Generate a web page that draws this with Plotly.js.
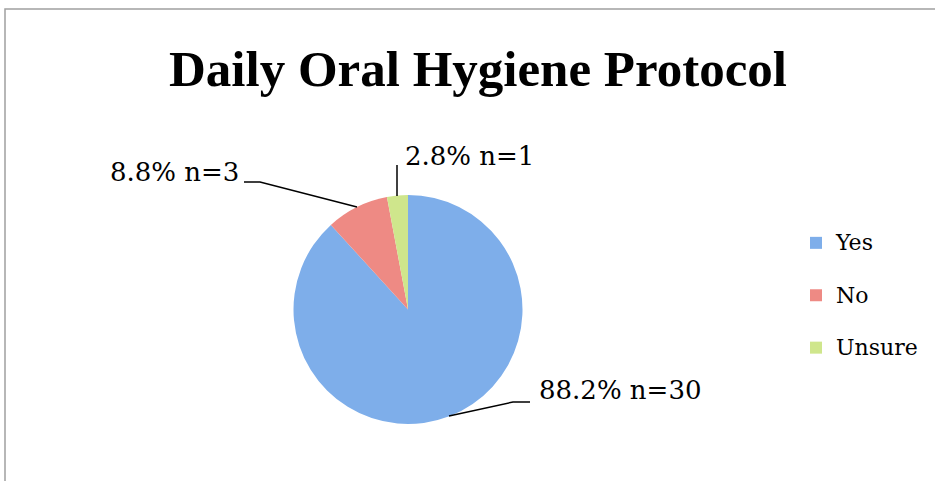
<!DOCTYPE html>
<html><head><meta charset="utf-8">
<script src="https://cdn.plot.ly/plotly-3.0.1.min.js"></script>
<style>html,body{margin:0;padding:0;background:#fff}</style>
</head><body>
<div id="chart" style="width:935px;height:481px"></div>
<script>
const categories = ['Yes', 'No', 'Unsure'];
const counts = [30, 3, 1];
const pctLabels = ['88.2%', '8.8%', '2.8%'];
const colors = ['#7eaeea', '#ee8a84', '#cfe68c'];

const W = 935, H = 481;
const px = x => x / W;
const py = y => 1 - y / H;

const cx = 408, cy = 309.5, r = 114.5;

const labelText = categories.map((c, i) => pctLabels[i] + ' n=' + counts[i]);
// label anchor positions (pixels) for Yes, No, Unsure
const labelPos = [[537, 390, 'left'], [108, 172, 'left'], [403, 156, 'left']];
const leaders = [
  [[449, 416], [513, 402], [530, 402]],
  [[244, 182], [260, 182], [357, 207]],
  [[397, 165], [397, 196]]
];

const trace = {
  type: 'pie',
  labels: categories.map(c => '<span style="font-size:22px">' + c + '</span><br>&nbsp;'),
  values: counts,
  sort: false,
  direction: 'clockwise',
  rotation: 0,
  textinfo: 'none',
  hoverinfo: 'label+value+percent',
  marker: { colors: colors, line: { width: 0 } },
  domain: { x: [px(cx - r), px(cx + r)], y: [py(cy + r), py(cy - r)] }
};

const shapes = [{
  type: 'rect', xref: 'paper', yref: 'paper',
  x0: px(5), x1: px(960), y0: py(9), y1: py(520),
  line: { color: '#a0a0a0', width: 1.5 }
}];
leaders.forEach(pts => {
  let path = 'M' + pts.map(p => px(p[0]) + ',' + py(p[1])).join(' L');
  shapes.push({ type: 'path', xref: 'paper', yref: 'paper', path: path, line: { color: '#000', width: 1.5 } });
});

const annotations = labelText.map((t, i) => ({
  xref: 'paper', yref: 'paper', x: px(labelPos[i][0]), y: py(labelPos[i][1]),
  xanchor: labelPos[i][2], yanchor: 'middle', showarrow: false, text: t,
  font: { family: 'DejaVu Serif, serif', size: 26, color: '#000' }
}));

const layout = {
  width: W, height: H,
  margin: { l: 0, r: 0, t: 0, b: 0 },
  paper_bgcolor: '#fff',
  title: {
    text: '<b>Daily Oral Hygiene Protocol</b>',
    font: { family: 'Liberation Serif, serif', size: 51, color: '#000' },
    x: px(478), xanchor: 'center', y: py(68), yanchor: 'middle', xref: 'paper', yref: 'paper'
  },
  showlegend: true,
  legend: {
    x: px(796), xanchor: 'left', y: py(224), yanchor: 'top',
    valign: 'top',
    font: { family: 'DejaVu Serif, serif', size: 19, color: '#000' },
    bgcolor: 'rgba(0,0,0,0)'
  },
  shapes: shapes,
  annotations: annotations
};

Plotly.newPlot('chart', [trace], layout, { displayModeBar: false, staticPlot: true });
</script>
</body></html>
